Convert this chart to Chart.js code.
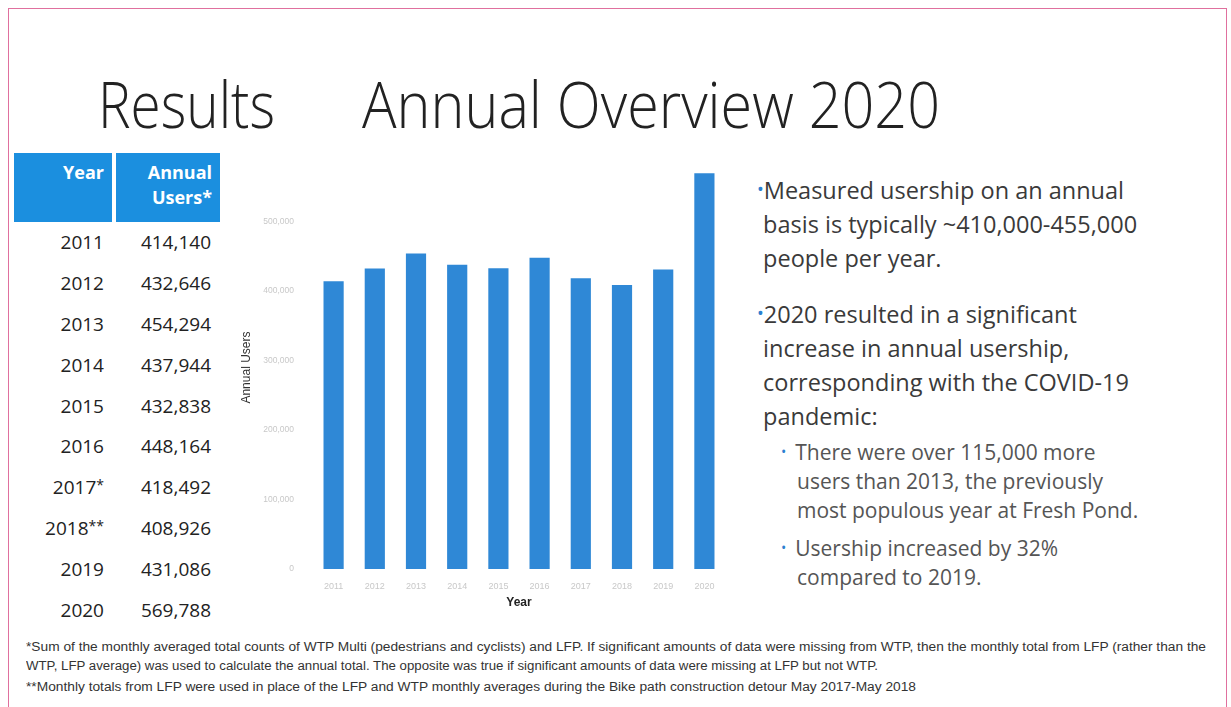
<!DOCTYPE html>
<html>
<head>
<meta charset="utf-8">
<script src="https://cdn.jsdelivr.net/npm/chart.js@4.4.0/dist/chart.umd.min.js"></script>
<style>
  html, body { margin: 0; padding: 0; background: #fff; }
  body { width: 1231px; height: 707px; position: relative; overflow: hidden; font-family: "Open Sans", "DejaVu Sans", sans-serif; }
  .frame { position: absolute; left: 8px; top: 8px; width: 1219px; height: 720px; border: 1px solid #e0709e; box-sizing: border-box; }
  .title { position: absolute; top: 60px; font-size: 64px; line-height: 87px; font-weight: 300; color: #222; white-space: nowrap; transform-origin: 0 0; }
  table { position: absolute; left: 14px; top: 153px; border-collapse: separate; border-spacing: 0; }
  th { background: #1b8fdf; color: #fff; font-weight: 700; font-size: 18px; text-align: right; vertical-align: top; line-height: 25px; padding: 7px 8px 4px 8px; height: 69px; box-sizing: border-box; }
  th.c1 { width: 102px; border-right: 4px solid #fff; }
  th.c2 { width: 104px; }
  td { font-size: 19px; color: #222; text-align: right; height: 40.8px; padding: 0 9px 0 0; line-height: 40px; }
  td.y { padding-right: 12px; }
  td.y sup { font-size: 14px; vertical-align: 4px; line-height: 0; }
  #wrap { position: absolute; left: 235px; top: 150px; width: 500px; height: 464px; }
  .bul { position: absolute; left: 757px; color: #3a3a3a; font-size: 23.5px; line-height: 34px; white-space: nowrap; }
  .bul .dot { color: #2b7fd0; font-size: 18px; vertical-align: 3px; }
  .sub { position: absolute; left: 781px; color: #555; font-size: 21px; line-height: 29px; white-space: nowrap; }
  .sub .dot { color: #2b7fd0; font-size: 14px; vertical-align: 3px; margin-right: 9px; }
  .foot { position: absolute; left: 26px; font-family: "Liberation Sans Narrow", "Liberation Sans", sans-serif; font-size: 12px; color: #333; white-space: nowrap; transform-origin: 0 0; }
</style>
</head>
<body>
<div class="frame"></div>
<div class="title fit" data-w="177" style="left:98px">Results</div>
<div class="title fit" data-w="578" style="left:362px">Annual Overview 2020</div>

<table id="tbl">
  <thead><tr><th class="c1">Year</th><th class="c2">Annual<br>Users*</th></tr></thead>
  <tbody></tbody>
</table>

<div id="wrap"><canvas id="grafico"></canvas></div>

<div class="bul" style="top:172px"><span class="dot">•</span>Measured usership on an annual<br>&nbsp;basis is typically ~410,000-455,000<br>&nbsp;people per year.</div>
<div class="bul" style="top:296px"><span class="dot">•</span>2020 resulted in a significant<br>&nbsp;increase in annual usership,<br>&nbsp;corresponding with the COVID-19<br>&nbsp;pandemic:</div>
<div class="sub" style="top:437px"><span class="dot">•</span>There were over 115,000 more<br><span style="margin-left:16px">users than 2013, the previously</span><br><span style="margin-left:16px">most populous year at Fresh Pond.</span></div>
<div class="sub" style="top:533px"><span class="dot">•</span>Usership increased by 32%<br><span style="margin-left:16px">compared to 2019.</span></div>

<div class="foot fit" data-w="1180" style="top:640px">*Sum of the monthly averaged total counts of WTP Multi (pedestrians and cyclists) and LFP. If significant amounts of data were missing from WTP, then the monthly total from LFP (rather than the</div>
<div class="foot fit" data-w="852" style="top:659px">WTP, LFP average) was used to calculate the annual total. The opposite was true if significant amounts of data were missing at LFP but not WTP.</div>
<div class="foot fit" data-w="890" style="top:680px">**Monthly totals from LFP were used in place of the LFP and WTP monthly averages during the Bike path construction detour May 2017-May 2018</div>

<script>
const years = ['2011','2012','2013','2014','2015','2016','2017','2018','2019','2020'];
const yearNotes = ['','','','','','','*','**','',''];
const annualUsers = [414140, 432646, 454294, 437944, 432838, 448164, 418492, 408926, 431086, 569788];
const yTicks = [0, 100000, 200000, 300000, 400000, 500000];

// tabla de la izquierda
const cuerpo = document.querySelector('#tbl tbody');
years.forEach((y, i) => {
  const fila = document.createElement('tr');
  const nota = yearNotes[i] ? '<sup>' + yearNotes[i] + '</sup>' : '';
  fila.innerHTML = '<td class="y">' + y + nota + '</td><td>' + annualUsers[i].toLocaleString('en-US') + '</td>';
  cuerpo.appendChild(fila);
});

// ajustar el ancho de los textos (título y notas)
document.querySelectorAll('.fit').forEach((el) => {
  const w = el.getBoundingClientRect().width;
  el.style.transform = 'scaleX(' + (Number(el.dataset.w) / w) + ')';
});

const canvas = document.getElementById('grafico');
new Chart(canvas, {
  type: 'bar',
  data: {
    labels: years,
    datasets: [{
      data: annualUsers,
      backgroundColor: '#2f88d6',
      categoryPercentage: 1,
      barPercentage: 0.49
    }]
  },
  options: {
    responsive: true,
    maintainAspectRatio: false,
    animation: false,
    layout: { padding: { top: 14, right: 10, left: 0, bottom: 0 } },
    plugins: { legend: { display: false }, tooltip: { enabled: false } },
    scales: {
      x: {
        grid: { display: false },
        border: { display: false },
        ticks: { color: '#c8c8c8', font: { size: 9 }, maxRotation: 0, padding: 4 },
        title: { display: true, text: 'Year', color: '#222', font: { size: 12, weight: 'bold' }, padding: { top: 2 } },
        afterFit: (s) => { s.height = 45; }
      },
      y: {
        min: 0,
        max: 580000,
        grid: { display: false },
        border: { display: false },
        afterBuildTicks: (s) => { s.ticks = yTicks.map(v => ({ value: v })); },
        ticks: {
          color: '#c8c8c8',
          font: { size: 8.5 },
          padding: 11,
          callback: (v) => v.toLocaleString('en-US')
        },
        title: { display: true, text: 'Annual Users', color: '#333', font: { size: 12 }, padding: { bottom: 0 } },
        afterFit: (s) => { s.width = 78; }
      }
    }
  }
});
</script>
</body>
</html>
